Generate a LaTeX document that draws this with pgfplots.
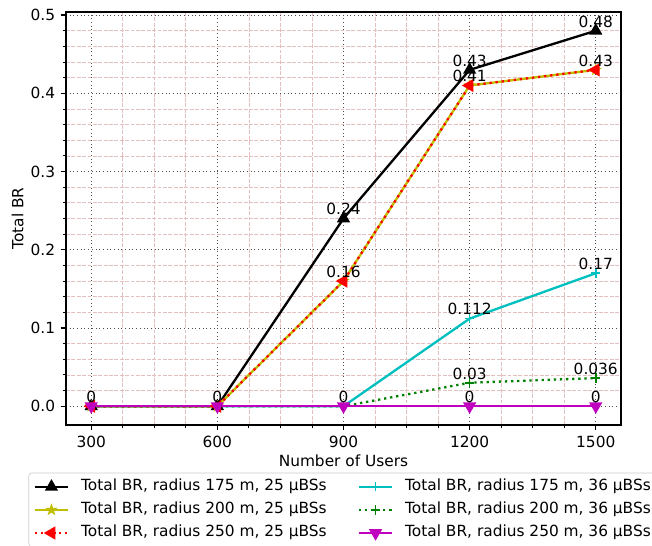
\documentclass[border=0pt]{standalone}
\usepackage{fontspec}
\setmainfont{DejaVu Sans}
\usepackage{pgfplots}
\pgfplotsset{compat=1.18}
\usepackage{pgfplotstable}

\definecolor{mplY}{rgb}{0.75,0.75,0}
\definecolor{mplC}{rgb}{0,0.75,0.75}
\definecolor{mplG}{rgb}{0,0.5,0}
\definecolor{mplM}{rgb}{0.75,0,0.75}
\definecolor{minorgrid}{rgb}{0.89,0.75,0.75}

\pgfdeclareplotmark{fstar}{%
  \pgfpathmoveto{\pgfpointpolar{90}{\pgfplotmarksize}}%
  \pgfpathlineto{\pgfpointpolar{126}{0.4*\pgfplotmarksize}}%
  \pgfpathlineto{\pgfpointpolar{162}{\pgfplotmarksize}}%
  \pgfpathlineto{\pgfpointpolar{198}{0.4*\pgfplotmarksize}}%
  \pgfpathlineto{\pgfpointpolar{234}{\pgfplotmarksize}}%
  \pgfpathlineto{\pgfpointpolar{270}{0.4*\pgfplotmarksize}}%
  \pgfpathlineto{\pgfpointpolar{306}{\pgfplotmarksize}}%
  \pgfpathlineto{\pgfpointpolar{342}{0.4*\pgfplotmarksize}}%
  \pgfpathlineto{\pgfpointpolar{18}{\pgfplotmarksize}}%
  \pgfpathlineto{\pgfpointpolar{54}{0.4*\pgfplotmarksize}}%
  \pgfpathclose
  \pgfusepathqfillstroke}

\pgfplotstableread{
x s1 s2 s3 s4 s5 s6
300 0 0 0 0 0 0
600 0 0 0 0 0 0
900 0.24 0.16 0.16 0 0 0
1200 0.43 0.41 0.41 0.112 0.03 0
1500 0.48 0.43 0.43 0.17 0.036 0
}\datatable

\pgfplotstableread{
x y lab
300 0 0
600 0 0
900 0 0
900 0.24 0.24
1200 0.43 0.43
1500 0.48 0.48
900 0.16 0.16
1200 0.41 0.41
1500 0.43 0.43
1200 0.112 0.112
1500 0.17 0.17
1200 0.03 0.03
1500 0.036 0.036
1200 0 0
1500 0 0
}\labeltable

\begin{document}
\begin{tikzpicture}
\begin{axis}[
  scale only axis,
  width=360.75pt, height=268.45pt,
  xmin=240, xmax=1560, ymin=-0.024, ymax=0.504,
  xtick={300,600,900,1200,1500},
  ytick={0,0.1,0.2,0.3,0.4,0.5},
  minor x tick num=3,
  minor y tick num=4,
  tick align=outside,
  tick pos=left,
  major tick length=3.5pt,
  minor tick length=2pt,
  every tick/.style={black, line width=0.8pt},
  every minor tick/.style={black, line width=0.6pt},
  axis line style={line width=0.8pt},
  grid=both,
  major grid style={black!70, dotted, line width=0.5pt},
  minor grid style={minorgrid, dash pattern=on 2.5pt off 1pt, line width=0.45pt},
  /pgf/number format/assume math mode=true,
  /pgf/number format/1000 sep={},
  yticklabel style={/pgf/number format/fixed, /pgf/number format/fixed zerofill, /pgf/number format/precision=1},
  tick label style={font=\fontsize{10}{12}\selectfont},
  label style={font=\fontsize{10}{12}\selectfont},
  xlabel={Number of Users},
  ylabel={Total BR},
  xlabel style={at={(axis description cs:0.5,0)}, anchor=center, yshift=-23.4pt},
  ylabel style={at={(axis description cs:-0.0873,0.5)}, anchor=center},
  legend columns=2,
  legend cell align=left,
  legend image code/.code={\draw[mark repeat=2,mark phase=2] plot coordinates {(0pt,0pt)(11pt,0pt)(22pt,0pt)};},
  legend style={at={(axis description cs:0,0)}, anchor=north west, xshift=-24.4pt, yshift=-31pt,
    draw=black!20, rounded corners=2pt, fill=white,
    font=\fontsize{10}{12}\selectfont,
    inner xsep=3pt, inner ysep=4pt,
    nodes={inner sep=0pt, text height=7.6pt, text depth=2.4pt},
    row sep=5pt, column sep=7.5pt,
    /tikz/every even column/.append style={column sep=20pt}},
]
\addplot[black, line width=1.5pt, mark=triangle*, mark size=3.5pt, mark options={solid, fill=black}] table[x=x, y=s1] {\datatable};
\addlegendentry{Total BR, radius 175 m, 25 μBSs}
\addplot[mplC, line width=1.5pt, mark=+, mark size=3pt, mark options={solid, line width=1pt}] table[x=x, y=s4] {\datatable};
\addlegendentry{Total BR, radius 175 m, 36 μBSs}
\addplot[mplY, line width=1.5pt, mark=fstar, mark size=3.5pt, mark options={solid, fill=mplY, line width=0.5pt}] table[x=x, y=s2] {\datatable};
\addlegendentry{Total BR, radius 200 m, 25 μBSs}
\addplot[mplG, line width=1.5pt, dash pattern=on 1.5pt off 2.475pt, mark=+, mark size=3pt, mark options={solid, line width=1pt}] table[x=x, y=s5] {\datatable};
\addlegendentry{Total BR, radius 200 m, 36 μBSs}
\addplot[red, line width=1.5pt, dash pattern=on 1.5pt off 2.475pt, mark=triangle*, mark size=3.5pt, mark options={solid, fill=red, rotate=90}] table[x=x, y=s3] {\datatable};
\addlegendentry{Total BR, radius 250 m, 25 μBSs}
\addplot[mplM, line width=1.5pt, mark=triangle*, mark size=3.5pt, mark options={solid, fill=mplM, rotate=180}] table[x=x, y=s6] {\datatable};
\addlegendentry{Total BR, radius 250 m, 36 μBSs}
\addplot[draw=none, mark=none, forget plot, nodes near coords, point meta=explicit symbolic,
  every node near coord/.append style={anchor=base, inner sep=0pt, yshift=2.4pt, black, font=\fontsize{10}{12}\selectfont}]
  table[x=x, y=y, meta=lab] {\labeltable};
\end{axis}
\pgfresetboundingbox
\path (-42.9pt,-78.65pt) rectangle (380.9pt,276.25pt);
\end{tikzpicture}
\end{document}
